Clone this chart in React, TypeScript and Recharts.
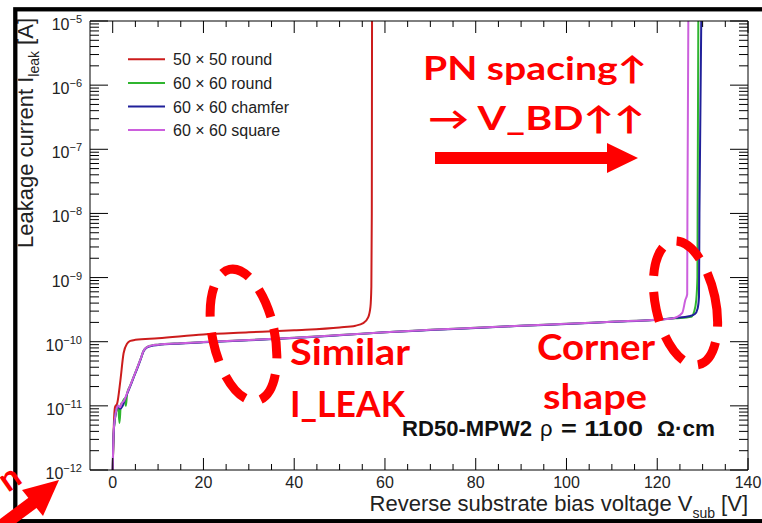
import React from 'react';
import { LineChart, Line, XAxis, YAxis, Legend } from 'recharts';

// ---------------- data ----------------
// 50 x 50 round
const redV = [0, 0.25, 0.5, 1.0, 1.7, 2.4, 3.2, 3.9, 5, 10, 20, 30, 40, 50, 53.5, 55.2, 56.3, 56.8, 57.0, 57.1, 57.15];
const redI = [1e-12, 5e-12, 9.5e-12, 1.1e-11, 2.5e-11, 6.6e-11, 9.4e-11, 1.03e-10, 1.07e-10, 1.13e-10, 1.3e-10, 1.4e-10, 1.51e-10, 1.67e-10, 1.78e-10, 1.95e-10, 2.4e-10, 3.5e-10, 7.2e-10, 1e-8, 1e-5];

// 60 x 60 round
const greenV = [0, 0.2, 0.5, 0.8, 1.2, 1.5, 1.8, 2.2, 2.6, 2.9, 3.2, 3.9, 4.6, 5.4, 6.2, 6.8, 7.5, 8.5, 10, 15, 20, 30, 40, 50, 60, 70, 80, 90, 100, 110, 120, 124, 127.5, 128.1, 128.6, 128.85, 128.9, 129.05];
const greenI = [1e-12, 3.5e-12, 6.2e-12, 8.4e-12, 1.0e-11, 5.4e-12, 1.05e-11, 1.15e-11, 1.3e-11, 1.0e-11, 1.6e-11, 2.1e-11, 2.8e-11, 3.9e-11, 5.5e-11, 7.2e-11, 8.2e-11, 8.7e-11, 9.0e-11, 9.5e-11, 9.9e-11, 1.06e-10, 1.15e-10, 1.27e-10, 1.41e-10, 1.53e-10, 1.65e-10, 1.78e-10, 1.9e-10, 2.05e-10, 2.2e-10, 2.32e-10, 2.45e-10, 2.9e-10, 4.5e-10, 1e-9, 1e-8, 1e-5];

// 60 x 60 chamfer
const blueV = [0, 0.2, 0.5, 0.8, 1.2, 1.6, 2.2, 2.6, 3.2, 3.9, 4.6, 5.4, 6.2, 6.8, 7.5, 8.5, 10, 15, 20, 30, 40, 50, 60, 70, 80, 90, 100, 110, 120, 124, 127, 128.3, 128.9, 129.2, 129.3, 129.7];
const blueI = [1e-12, 3.6e-12, 6.4e-12, 8.5e-12, 1.0e-11, 9.0e-12, 1.0e-11, 1.2e-11, 1.55e-11, 2.05e-11, 2.75e-11, 3.8e-11, 5.4e-11, 7.1e-11, 8.1e-11, 8.6e-11, 8.9e-11, 9.4e-11, 9.8e-11, 1.05e-10, 1.14e-10, 1.26e-10, 1.4e-10, 1.52e-10, 1.64e-10, 1.77e-10, 1.89e-10, 2.04e-10, 2.2e-10, 2.35e-10, 2.5e-10, 2.7e-10, 3.3e-10, 5e-10, 1e-8, 1e-5];

// 60 x 60 square
const violetV = [0, 0.2, 0.5, 0.8, 1.2, 1.6, 2.0, 2.5, 3.2, 3.9, 4.6, 5.4, 6.2, 6.8, 7.5, 8.5, 10, 15, 20, 30, 40, 50, 60, 70, 80, 90, 100, 110, 120, 123.3, 125.5, 126.2, 126.6, 126.65, 126.85];
const violetI = [1e-12, 3.7e-12, 6.5e-12, 8.6e-12, 1.0e-11, 9.5e-12, 1.1e-11, 1.2e-11, 1.6e-11, 2.1e-11, 2.8e-11, 3.9e-11, 5.5e-11, 7.2e-11, 8.2e-11, 8.7e-11, 9.0e-11, 9.5e-11, 9.9e-11, 1.06e-10, 1.15e-10, 1.27e-10, 1.41e-10, 1.53e-10, 1.65e-10, 1.78e-10, 1.9e-10, 2.05e-10, 2.2e-10, 2.3e-10, 2.8e-10, 4.5e-10, 5.5e-10, 1e-8, 1e-5];

const seriesNames = ['50 \u00d7 50 round', '60 \u00d7 60 round', '60 \u00d7 60 chamfer', '60 \u00d7 60 square'];
const seriesColors = ['#cc1c1c', '#2fb52f', '#20209a', '#cc5fdd'];

// ticks
const xMajorTicks = [0, 20, 40, 60, 80, 100, 120, 140];
const xAllTicks = [0, 5, 10, 15, 20, 25, 30, 35, 40, 45, 50, 55, 60, 65, 70, 75, 80, 85, 90, 95, 100, 105, 110, 115, 120, 125, 130, 135, 140];
const yDecadeExponents = [-12, -11, -10, -9, -8, -7, -6, -5];
const yMinorMultipliers = [2, 3, 4, 5, 6, 7, 8, 9];

const yAllTicks: number[] = [];
yDecadeExponents.forEach((e, k) => {
  yAllTicks.push(Math.pow(10, e));
  if (k < yDecadeExponents.length - 1) yMinorMultipliers.forEach((m) => yAllTicks.push(m * Math.pow(10, e)));
});

const toData = (v: number[], i: number[]) => v.map((x, k) => ({ v: x, i: i[k] }));
const seriesData = [toData(redV, redI), toData(greenV, greenI), toData(blueV, blueI), toData(violetV, violetI)];

// ---------------- styling helpers ----------------
const FONT = "'Liberation Sans', Arial, Helvetica, sans-serif";
const RED_FONT = "Lato, 'Open Sans', 'Liberation Sans', sans-serif";
const TXT = '#222';

const isDecade = (v: number) => {
  const e = Math.log10(v);
  return Math.abs(e - Math.round(e)) < 1e-6;
};

const BottomTick = (p: any) => {
  const { x, y, payload } = p;
  const major = xMajorTicks.includes(payload.value);
  return (
    <g>
      <line x1={x} y1={y} x2={x} y2={y - (major ? 12 : 6)} stroke="#000" strokeWidth={1} />
      {major && (
        <text x={x} y={y + 18} textAnchor="middle" fontSize={16} fontFamily={FONT} fill={TXT}>
          {payload.value}
        </text>
      )}
    </g>
  );
};

const TopTick = (p: any) => {
  const { x, y, payload } = p;
  const major = xMajorTicks.includes(payload.value);
  return <line x1={x} y1={y} x2={x} y2={y + (major ? 12 : 6)} stroke="#000" strokeWidth={1} />;
};

const LeftTick = (p: any) => {
  const { x, y, payload } = p;
  const v = payload.value;
  const major = isDecade(v);
  const e = Math.round(Math.log10(v));
  return (
    <g>
      <line x1={x} y1={y} x2={x + (major ? 18 : 9)} y2={y} stroke="#000" strokeWidth={1} />
      {major && (
        <text x={x - 8} y={y + 9} textAnchor="end" fontSize={16} fontFamily={FONT} fill={TXT}>
          10
          <tspan dy={-7} fontSize={11}>{'\u2212' + Math.abs(e)}</tspan>
        </text>
      )}
    </g>
  );
};

const RightTick = (p: any) => {
  const { x, y, payload } = p;
  const major = isDecade(payload.value);
  return <line x1={x} y1={y} x2={x - (major ? 18 : 9)} y2={y} stroke="#000" strokeWidth={1} />;
};

const XTitle = (p: any) => {
  const vb = p.viewBox || { x: 90, y: 470, width: 658 };
  return (
    <text x={vb.x + vb.width} y={vb.y + 41} textAnchor="end" fontSize={22} fontFamily={FONT} fill={TXT}>
      Reverse substrate bias voltage V
      <tspan dy={7} fontSize={14}>sub</tspan>
      <tspan dy={-7} fontSize={22}>{' [V]'}</tspan>
    </text>
  );
};

const YTitle = (p: any) => {
  const vb = p.viewBox || { x: 0, y: 21 };
  const ax = 33;
  const ay = vb.y - 3;
  return (
    <text x={ax} y={ay} textAnchor="end" fontSize={22} fontFamily={FONT} fill={TXT} transform={`rotate(-90, ${ax}, ${ay})`}>
      Leakage current I
      <tspan dy={6} fontSize={14}>leak</tspan>
      <tspan dy={-6} fontSize={22}>{' [A]'}</tspan>
    </text>
  );
};

const LegendContent = (p: any) => {
  const payload = [...(p.payload || [])].sort(
    (a: any, b: any) => seriesNames.indexOf(a.value) - seriesNames.indexOf(b.value)
  );
  return (
    <svg width={200} height={100} style={{ display: 'block' }}>
      {payload.map((e: any, k: number) => {
        const yy = 11.3 + k * 23.6;
        return (
          <g key={k}>
            <line x1={8} x2={45} y1={yy} y2={yy} stroke={e.color} strokeWidth={2} />
            <text x={53} y={yy + 6} fontSize={16} fontFamily={FONT} fill={TXT}>
              {e.value}
            </text>
          </g>
        );
      })}
    </svg>
  );
};

const Annotations = () => (
  <svg width={762} height={523} style={{ position: 'absolute', left: 0, top: 0, pointerEvents: 'none' }}>
    {/* outer black frame */}
    <rect x={15.3} y={9.3} width={760} height={511.9} fill="none" stroke="#000" strokeWidth={4.3} />

    {/* RD50 label */}
    <text x={402} y={436} fontSize={22} fontFamily={FONT} fill="#111" fontWeight="bold" textLength={130} lengthAdjust="spacingAndGlyphs">RD50-MPW2</text>
    <text x={540} y={436} fontSize={22} fontFamily={FONT} fill="#111">{'\u03c1'}</text>
    <text x={561} y={436} fontSize={22} fontFamily={FONT} fill="#111" fontWeight="bold" textLength={82} lengthAdjust="spacingAndGlyphs">= 1100</text>
    <text x={657} y={436} fontSize={22} fontFamily={FONT} fill="#111" fontWeight="bold" textLength={58} lengthAdjust="spacingAndGlyphs">{'\u03a9\u00b7cm'}</text>

    {/* red annotation texts */}
    <g fill="#ff0000" fontFamily={RED_FONT} fontWeight="bold">
      <text x={423} y={80} fontSize={32} textLength={224} lengthAdjust="spacingAndGlyphs">{'PN spacing\u2191'}</text>
      <text x={428} y={130} fontSize={32} textLength={217} lengthAdjust="spacingAndGlyphs">{'\u2192 V_BD\u2191\u2191'}</text>
      <text x={290} y={365} fontSize={36} textLength={120} lengthAdjust="spacingAndGlyphs">Similar</text>
      <text x={290} y={417} fontSize={36} textLength={115} lengthAdjust="spacingAndGlyphs">I_LEAK</text>
      <text x={537} y={360} fontSize={36} textLength={118} lengthAdjust="spacingAndGlyphs">Corner</text>
      <text x={543} y={409} fontSize={35} textLength={104} lengthAdjust="spacingAndGlyphs">shape</text>
      <text x={8} y={493} fontSize={34} transform="rotate(-35, 8, 493)">n</text>
    </g>

    {/* big arrow */}
    <polygon points="435,152 607,152 607,143 638,158 607,173 607,164 435,164" fill="#ff0000" />
    {/* bottom-left arrow */}
    <line x1={-4} y1={530} x2={35} y2={501} stroke="#ff0000" strokeWidth={13} />
    <polygon points="59,480 22,490 43,516" fill="#ff0000" />

    {/* dashed ellipses */}
    <ellipse cx={243.5} cy={335} rx={31} ry={67} transform="rotate(-12, 243.5, 335)" fill="none" stroke="#ff0000" strokeWidth={9} strokeDasharray="30 16" />
    <ellipse cx={685.5} cy={303} rx={30} ry={63} transform="rotate(-12, 685.5, 303)" fill="none" stroke="#ff0000" strokeWidth={9} strokeDasharray="30 16" />
  </svg>
);

export default function App() {
  return (
    <div style={{ position: 'absolute', left: 0, top: 0, width: 762, height: 523, background: '#fff', overflow: 'hidden' }}>
      <LineChart width={762} height={523} margin={{ top: 1, right: 0, bottom: 0, left: 0 }}>
        <XAxis
          xAxisId={0}
          dataKey="v"
          type="number"
          domain={[-5, 140]}
          allowDataOverflow
          ticks={xAllTicks}
          interval={0}
          tickSize={0}
          tickMargin={0}
          tickLine={false}
          tick={<BottomTick />}
          height={53}
          axisLine={{ stroke: '#000', strokeWidth: 1 }}
          label={(p: any) => <XTitle {...p} />}
        />
        <XAxis
          xAxisId="top"
          orientation="top"
          dataKey="v"
          type="number"
          domain={[-5, 140]}
          allowDataOverflow
          ticks={xAllTicks}
          interval={0}
          tickSize={0}
          tickMargin={0}
          tickLine={false}
          tick={<TopTick />}
          height={20}
          axisLine={{ stroke: '#000', strokeWidth: 1 }}
        />
        <YAxis
          yAxisId={0}
          type="number"
          scale="log"
          domain={[1e-12, 1e-5]}
          allowDataOverflow
          ticks={yAllTicks}
          interval={0}
          tickSize={0}
          tickMargin={0}
          tickLine={false}
          tick={<LeftTick />}
          width={90}
          axisLine={{ stroke: '#000', strokeWidth: 1 }}
          label={(p: any) => <YTitle {...p} />}
        />
        <YAxis
          yAxisId="right"
          orientation="right"
          type="number"
          scale="log"
          domain={[1e-12, 1e-5]}
          allowDataOverflow
          ticks={yAllTicks}
          interval={0}
          tickSize={0}
          tickMargin={0}
          tickLine={false}
          tick={<RightTick />}
          width={14}
          axisLine={{ stroke: '#000', strokeWidth: 1 }}
        />
        <Legend
          layout="horizontal"
          verticalAlign="middle"
          align="center"
          wrapperStyle={{ left: 120, top: 48, width: 200, height: 100 }}
          content={(p: any) => <LegendContent {...p} />}
        />
        {seriesData.map((d, k) => (
          <Line
            key={k}
            xAxisId={0}
            yAxisId={0}
            data={d}
            dataKey="i"
            name={seriesNames[k]}
            type="monotone"
            stroke={seriesColors[k]}
            strokeWidth={2}
            dot={false}
            activeDot={false}
            isAnimationActive={false}
          />
        ))}
      </LineChart>
      <Annotations />
    </div>
  );
}
